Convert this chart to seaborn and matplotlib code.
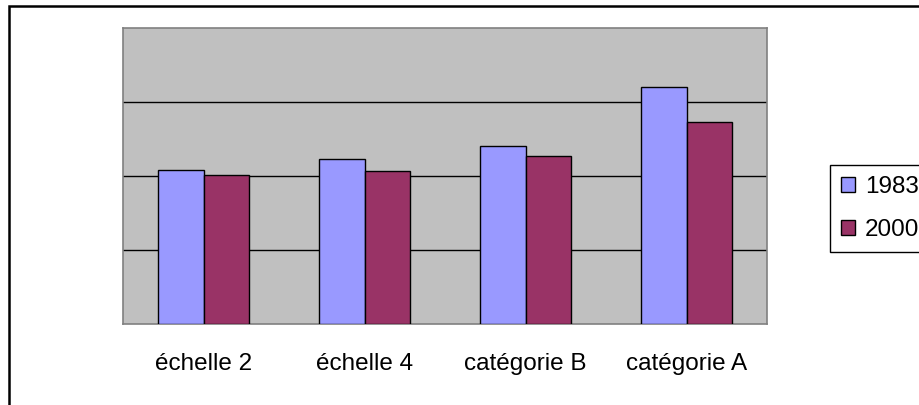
import matplotlib
matplotlib.use('Agg')
import matplotlib.pyplot as plt
import seaborn as sns
import pandas as pd
from matplotlib.patches import Rectangle

# Data (gridline step = 5)
categories = ['échelle 2', 'échelle 4', 'catégorie B', 'catégorie A']
years = ['1983', '2000']
values_1983 = [10.4, 11.15, 12.05, 16.0]
values_2000 = [10.05, 10.35, 11.35, 13.65]
colors = {'1983': '#9999FF', '2000': '#993366'}

df = pd.DataFrame({
    'Catégorie': categories * 2,
    'Année': [years[0]] * 4 + [years[1]] * 4,
    'Valeur': values_1983 + values_2000,
})

sns.set_style('white')
plt.rcParams['font.family'] = ['Liberation Sans', 'DejaVu Sans']
plt.rcParams['text.color'] = 'black'
plt.rcParams['xtick.color'] = 'black'

W, H = 919, 405
fig = plt.figure(figsize=(W / 100, H / 100), dpi=100)
ax = fig.add_axes([123 / W, 1 - 324 / H, (767 - 123) / W, (324 - 28) / H])

sns.barplot(data=df, x='Catégorie', y='Valeur', hue='Année', palette=colors,
            order=categories, hue_order=years, width=0.57, gap=0,
            edgecolor='black', linewidth=1, saturation=1, ax=ax, zorder=3)

ax.set_facecolor('#C0C0C0')
ax.set_ylim(0, 20)
ax.set_yticks([5, 10, 15])
ax.set_yticklabels([])
ax.yaxis.grid(True, color='black', linewidth=1)
ax.set_axisbelow(True)
ax.tick_params(axis='both', length=0)
ax.tick_params(axis='x', labelsize=17.5, pad=21, labelcolor='black')
ax.set_xlabel('')
ax.set_ylabel('')
for s in ax.spines.values():
    s.set_visible(True)
    s.set_color('#808080')
    s.set_linewidth(1.2)

# Outer chart border
fig.patches.append(Rectangle((9 / W, -0.1), 1.2, 1 - 6 / H + 0.1, transform=fig.transFigure,
                             fill=False, edgecolor='black', linewidth=1.8))

leg = ax.legend(loc='upper left', bbox_to_anchor=(830 / W, 1 - 165 / H),
                bbox_transform=fig.transFigure, frameon=True, fancybox=False,
                edgecolor='black', fontsize=17.5, handlelength=0.58, handleheight=0.58,
                handletextpad=0.4, labelspacing=0.88, borderpad=0.45, borderaxespad=0,
                title=None)
leg.get_frame().set_linewidth(1)
leg.get_frame().set_facecolor('white')
leg.get_frame().set_alpha(1)
for t in leg.get_texts():
    t.set_color('black')

fig.savefig('out.png', dpi=100)
